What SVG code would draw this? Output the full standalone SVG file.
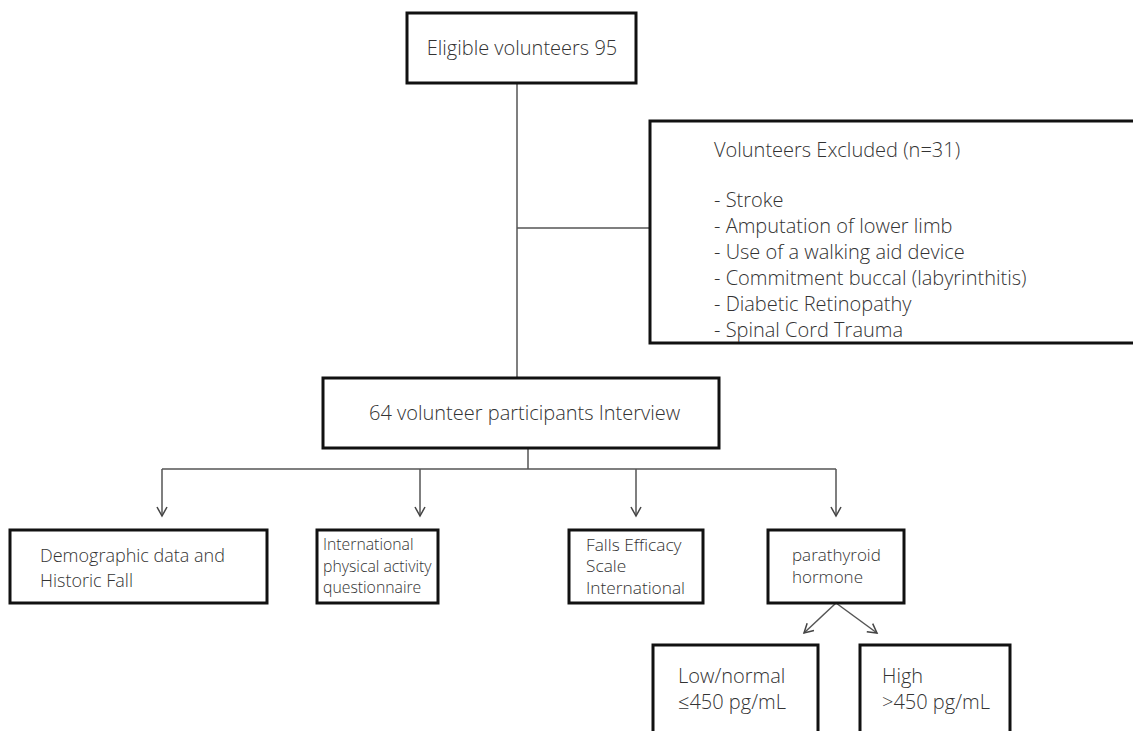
<svg xmlns="http://www.w3.org/2000/svg" width="1133" height="731" viewBox="0 0 1133 731">
<defs>
<marker id="arr" viewBox="0 0 12 12" refX="10" refY="6" markerWidth="12" markerHeight="12" markerUnits="userSpaceOnUse" orient="auto">
<path d="M1,1 L10,6 L1,11" fill="none" stroke="#444" stroke-width="1.5"/>
</marker>
<style>
.box{fill:#fff;stroke:#111;stroke-width:3}
.t{font-family:"Open Sans",Lato,"Liberation Sans",sans-serif;font-weight:300;fill:#333}
.c{fill:none;stroke:#555;stroke-width:1.5}
</style>
</defs>
<rect width="1133" height="731" fill="#fff"/>
<g id="connectors">
<line class="c" x1="517" y1="83" x2="517" y2="378"/>
<line class="c" x1="517" y1="228" x2="650" y2="228"/>
<line class="c" x1="528" y1="448" x2="528" y2="469"/>
<line class="c" x1="162" y1="469" x2="836" y2="469"/>
<line class="c" x1="162" y1="469" x2="162" y2="516" marker-end="url(#arr)"/>
<line class="c" x1="420" y1="469" x2="420" y2="516" marker-end="url(#arr)"/>
<line class="c" x1="636" y1="469" x2="636" y2="516" marker-end="url(#arr)"/>
<line class="c" x1="836" y1="469" x2="836" y2="516" marker-end="url(#arr)"/>
<line class="c" x1="836" y1="603" x2="804" y2="633" marker-end="url(#arr)"/>
<line class="c" x1="836" y1="603" x2="877" y2="633" marker-end="url(#arr)"/>
</g>
<g id="eligible">
<rect class="box" x="407" y="13" width="229" height="70"/>
<text class="t" x="522" y="55" font-size="20" text-anchor="middle">Eligible volunteers 95</text>
</g>
<g id="excluded">
<rect class="box" x="650" y="121" width="490" height="222"/>
<text class="t" font-size="20" x="714" y="157">Volunteers Excluded (n=31)</text>
<text class="t" font-size="20" x="714" y="207">- Stroke</text>
<text class="t" font-size="20" x="714" y="233">- Amputation of lower limb</text>
<text class="t" font-size="20" x="714" y="259">- Use of a walking aid device</text>
<text class="t" font-size="20" x="714" y="285">- Commitment buccal (labyrinthitis)</text>
<text class="t" font-size="20" x="714" y="311">- Diabetic Retinopathy</text>
<text class="t" font-size="20" x="714" y="337">- Spinal Cord Trauma</text>
</g>
<g id="interview">
<rect class="box" x="323" y="378" width="396" height="70"/>
<text class="t" x="369" y="420" font-size="20">64 volunteer participants Interview</text>
</g>
<g id="demographic">
<rect class="box" x="10" y="530" width="257" height="73"/>
<text class="t" x="40" y="562" font-size="18">Demographic data and</text>
<text class="t" x="40" y="587" font-size="18">Historic Fall</text>
</g>
<g id="ipaq">
<rect class="box" x="317" y="530" width="121" height="73"/>
<text class="t" x="323" y="550" font-size="15.8">International</text>
<text class="t" x="323" y="572" font-size="15.8">physical activity</text>
<text class="t" x="323" y="593" font-size="15.8">questionnaire</text>
</g>
<g id="fes">
<rect class="box" x="569" y="530" width="134" height="73"/>
<text class="t" x="586" y="551" font-size="17.3">Falls Efficacy</text>
<text class="t" x="586" y="572" font-size="17.3">Scale</text>
<text class="t" x="586" y="594" font-size="17.3">International</text>
</g>
<g id="pth">
<rect class="box" x="768" y="530" width="136" height="73"/>
<text class="t" x="792" y="561" font-size="17">parathyroid</text>
<text class="t" x="792" y="583" font-size="17">hormone</text>
</g>
<g id="low">
<rect class="box" x="653" y="645" width="165" height="100"/>
<text class="t" x="678" y="683" font-size="20">Low/normal</text>
<text class="t" x="678" y="709" font-size="20">≤450 pg/mL</text>
</g>
<g id="high">
<rect class="box" x="860" y="645" width="150" height="100"/>
<text class="t" x="882" y="683" font-size="20">High</text>
<text class="t" x="882" y="709" font-size="20">&gt;450 pg/mL</text>
</g>
</svg>
